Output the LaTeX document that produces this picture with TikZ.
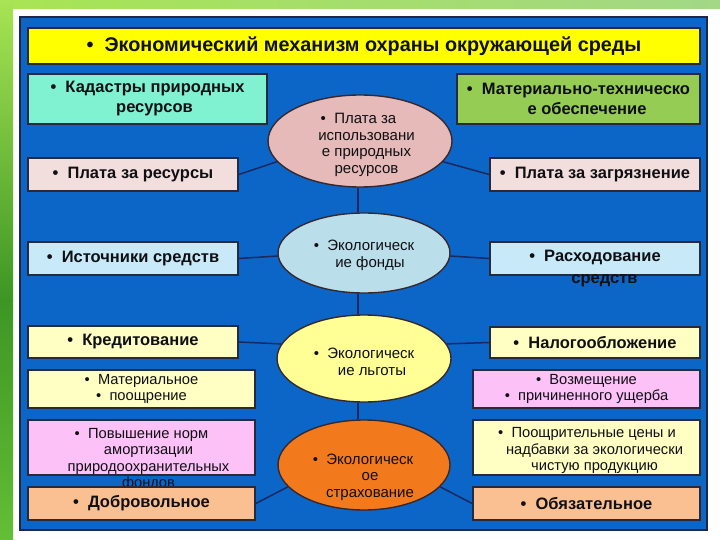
\documentclass[tikz,border=0pt]{standalone}
\usepackage{fontspec}
\setmainfont{Liberation Sans}
\usetikzlibrary{shapes.geometric,calc}
\definecolor{panelblue}{RGB}{12,102,200}
\definecolor{panelline}{RGB}{30,40,70}
\definecolor{boxline}{RGB}{40,42,60}
\definecolor{ellline}{RGB}{55,40,45}
\definecolor{connline}{RGB}{25,40,95}
\definecolor{txt}{RGB}{15,15,20}
\definecolor{ctitle}{RGB}{255,255,0}
\definecolor{caqua}{RGB}{128,242,210}
\definecolor{cgreen}{RGB}{148,204,84}
\definecolor{cpink}{RGB}{242,222,220}
\definecolor{cblue}{RGB}{200,234,248}
\definecolor{cyel}{RGB}{255,255,196}
\definecolor{cviol}{RGB}{252,194,248}
\definecolor{cpeach}{RGB}{250,192,146}
\definecolor{eone}{RGB}{230,186,184}
\definecolor{etwo}{RGB}{186,222,234}
\definecolor{ethree}{RGB}{255,255,150}
\definecolor{efour}{RGB}{242,122,28}
\definecolor{gA}{RGB}{168,228,84}
\definecolor{gB}{RGB}{60,150,36}
\definecolor{gC}{RGB}{100,190,54}
\begin{document}
\begin{tikzpicture}[x=1pt,y=-1pt,
  box/.style={draw=boxline, line width=1.6pt, inner sep=2pt, align=center, text=txt},
  bigt/.style={font=\bfseries\fontsize{16.5}{20}\selectfont},
  smallt/.style={font=\fontsize{14.7}{16.5}\selectfont},
  plaint/.style={text=txt, align=center, inner sep=0pt},
  ell/.style={ellipse, draw=ellline, line width=1.4pt, inner sep=0pt},
  ellt/.style={plaint, font=\fontsize{15}{16.6}\selectfont},
  conn/.style={draw=connline, line width=1.5pt}]
\useasboundingbox (0,0) rectangle (720,540);
\fill[white] (0,0) rectangle (720,540);
% green decoration
\shade[top color=gA, bottom color=gB] (0,0) rectangle (13,300);
\shade[top color=gB, bottom color=gC] (0,300) rectangle (13,540);
\shade[left color=gA, right color=gC!60!white] (13,0) rectangle (720,9);
% panel
\draw[fill=panelblue, draw=panelline, line width=2.5pt] (20,17) rectangle (707,530);
% title
\node[box, fill=ctitle, minimum width=672pt, minimum height=36pt,
      font=\bfseries\fontsize{19.8}{22}\selectfont] (title) at (364,46)
      {•\ \ Экономический механизм охраны окружающей среды};
% left column
\node[box, bigt, fill=caqua, minimum width=239pt, minimum height=50pt] (L1) at (147.5,99)
  {•\ \ Кадастры природных\\\hspace*{14pt}ресурсов};
\node[box, bigt, fill=cpink, minimum width=210pt, minimum height=33pt] (L2) at (133,174.5)
  {•\ \ Плата за ресурсы};
\node[box, bigt, fill=cblue, minimum width=210pt, minimum height=33pt] (L3) at (133,258.5)
  {•\ \ Источники средств};
\node[box, bigt, fill=cyel, minimum width=210pt, minimum height=32pt] (L4) at (133,342)
  {•\ \ Кредитование};
\node[box, smallt, fill=cyel, minimum width=227pt, minimum height=38pt] (L5) at (141.5,389)
  {•\ \ Материальное\\•\ \ поощрение};
\node[box, fill=cviol, minimum width=227pt, minimum height=55pt] (L6) at (141.5,447.5) {};
\node[plaint, smallt] (L6t) at (148.5,459.5)
  {\hspace*{-14pt}•\ \ Повышение норм\\амортизации\\природоохранительных\\фондов};
\node[box, bigt, fill=cpeach, minimum width=227pt, minimum height=33pt] (L7) at (141.5,503.5)
  {•\ \ Добровольное};
% right column
\node[box, bigt, fill=cgreen, minimum width=243pt, minimum height=50pt] (R1) at (578.5,99)
  {•\ \ Материально-техническо\\\hspace*{17pt}е обеспечение};
\node[box, bigt, fill=cpink, minimum width=210pt, minimum height=33pt] (R2) at (595,174.5)
  {•\ \ Плата за загрязнение};
\node[box, fill=cblue, minimum width=210pt, minimum height=33pt] (R3) at (595,258.5) {};
\node[plaint, font=\bfseries\fontsize{16.5}{22}\selectfont] (R3t) at (604.5,269)
  {\hspace*{-19pt}•\ \ Расходование\\средств};
\node[box, bigt, fill=cyel, minimum width=210pt, minimum height=31pt] (R4) at (595,342.5)
  {•\ \ Налогообложение};
\node[box, smallt, fill=cviol, minimum width=227pt, minimum height=38pt] (R5) at (586.5,389)
  {•\ \ Возмещение\\•\ \ причиненного ущерба};
\node[box, fill=cyel, minimum width=227pt, minimum height=55pt] (R6) at (586.5,447.5) {};
\node[plaint, smallt] (R6t) at (594.5,450.5)
  {\hspace*{-15pt}•\ \ Поощрительные цены и\\надбавки за экологически\\чистую продукцию};
\node[box, bigt, fill=cpeach, minimum width=227pt, minimum height=33pt] (R7) at (586.5,503.5)
  {•\ \ Обязательное};
% ellipses
\node[ell, fill=eone, minimum width=184pt, minimum height=92pt] (E1) at (360,141) {};
\node[ell, fill=etwo, minimum width=172pt, minimum height=80pt] (E2) at (364,253) {};
\node[ell, fill=ethree, minimum width=174pt, minimum height=87pt] (E3) at (364,358.5) {};
\node[ell, fill=efour, minimum width=172pt, minimum height=90pt] (E4) at (364,465) {};
\node[ellt] (E1t) at (366.5,145)
  {\hspace*{-16pt}•\ \ Плата за\\использовани\\е природных\\ресурсов};
\node[ellt] (E2t) at (370,255.5)
  {\hspace*{-12pt}•\ \ Экологическ\\ие фонды};
\node[ellt] (E3t) at (372,362)
  {\hspace*{-16pt}•\ \ Экологическ\\ие льготы};
\node[ellt] (E4t) at (370,477)
  {\hspace*{-14pt}•\ \ Экологическ\\ое\\страхование};
% connectors (drawn under the ellipses' borders only outside them)
\draw[conn] (E1.south -| 358,0) -- (E2.north -| 358,0);
\draw[conn] (E2.south -| 358,0) -- (E3.north -| 358,0);
\draw[conn] (E3.south -| 358,0) -- (E4.north -| 358,0);
\draw[conn] (L2.east) -- (E1.194);
\draw[conn] (E1.346) -- (R2.west);
\draw[conn] (L3.east) -- (E2.182);
\draw[conn] (E2.358) -- (R3.west);
\draw[conn] (L4.east) -- (E3.170);
\draw[conn] (E3.10) -- (R4.west);
\draw[conn] (L7.east) -- (E4.196);
\draw[conn] (E4.344) -- (R7.west);
\end{tikzpicture}
\end{document}
